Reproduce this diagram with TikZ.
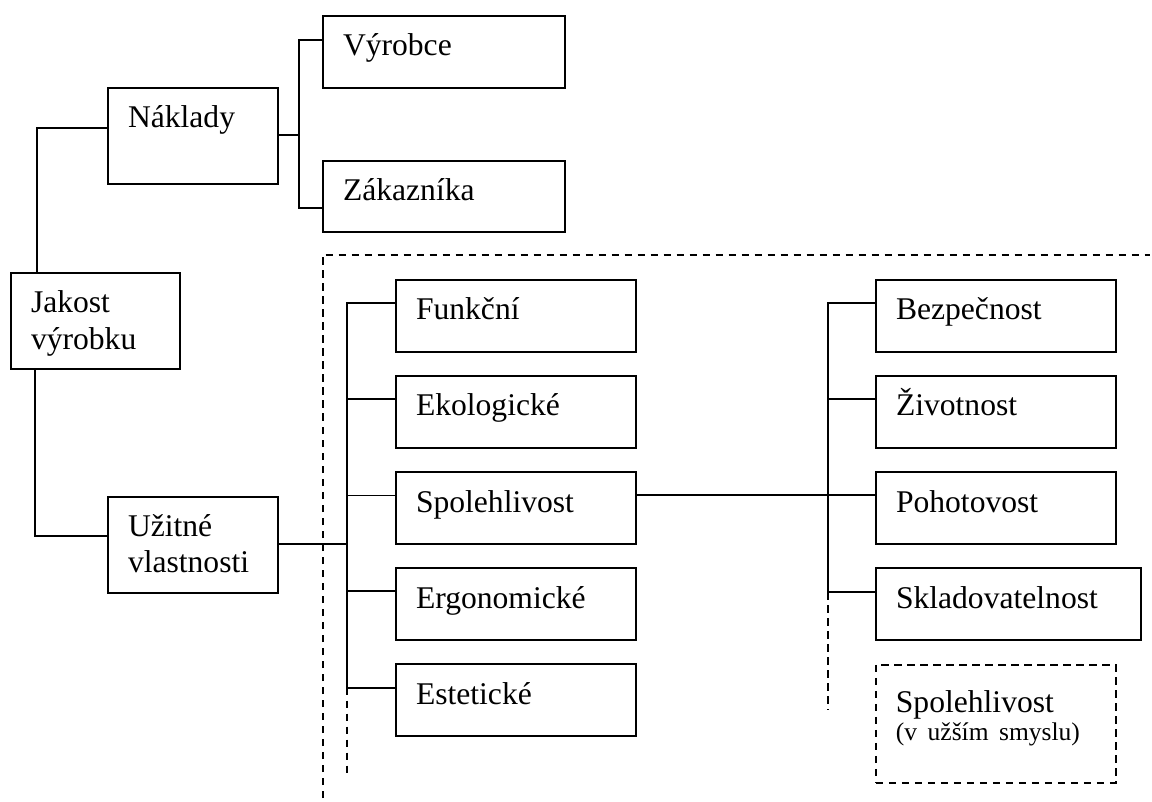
\documentclass[tikz,border=0pt]{standalone}
\usepackage{fontspec}
\setmainfont{Liberation Serif}
\tikzset{
  box/.style={draw, line width=2pt, rectangle, anchor=north west,
    inner xsep=20pt, inner ysep=0pt, text height=40pt, align=left,
    font=\fontsize{31.6}{36.6}\selectfont},
  dbox/.style={box, line width=1.8pt, dash pattern=on 7.5pt off 5.5pt},
  conn/.style={line width=1.9pt},
  dashline/.style={line width=1.8pt, dash pattern=on 7.5pt off 5.5pt},
}
\begin{document}
\begin{tikzpicture}[x=1pt, y=-1pt]
\fill[white] (0,0) rectangle (1152,802);
\useasboundingbox (0,0) rectangle (1152,802);

% dashed frame (drawn first)
\coordinate (d1) at (322.7,798);
\coordinate (d2) at (1150,255);
\draw[dashline] (d1) |- (d2);

% boxes
\node[box, text width=202pt, text depth=32pt] (vyr) at (322,15) {Výrobce};
\node[box, text width=202pt, text depth=31pt] (zak) at (322,160) {Zákazníka};
\node[box, text width=130pt, text depth=56pt] (nak) at (107,87) {Náklady};
\node[box, text width=129pt, text height=39.5pt, text depth=56.5pt] (jak) at (10,272) {Jakost\\výrobku};
\node[box, text width=130pt, text height=39pt, text depth=57pt] (uzi) at (107,496) {Užitné\\vlastnosti};

\node[box, text width=200pt, text depth=32pt] (fun) at (395,279) {Funkční};
\node[box, text width=200pt, text depth=32pt] (eko) at (395,375) {Ekologické};
\node[box, text width=200pt, text depth=32pt] (spo) at (395,471) {Spolehlivost};
\node[box, text width=200pt, text depth=32pt] (erg) at (395,567) {Ergonomické};
\node[box, text width=200pt, text depth=32pt] (est) at (395,663) {Estetické};

\node[box, text width=200pt, text depth=32pt] (bez) at (875,279) {Bezpečnost};
\node[box, text width=200pt, text depth=32pt] (ziv) at (875,375) {Životnost};
\node[box, text width=200pt, text depth=32pt] (poh) at (875,471) {Pohotovost};
\node[box, text width=225pt, text depth=32pt] (skl) at (875,567) {Skladovatelnost};
\node[dbox, text width=200pt, text height=47.7pt, text depth=70.3pt] (spu) at (875,664)
  {Spolehlivost\\[-8.3pt]\mbox{\fontsize{25.5}{28.3}\selectfont (v užším smyslu)}};

% helper coordinates
\coordinate (nb) at (299,135.3);
\coordinate (ub) at (347,543.7);
\coordinate (m1) at (347,687.7);
\coordinate (m2) at (347,777.7);
\coordinate (r1) at (827.7,592);
\coordinate (r2) at (827.7,709.3);

% connectors
\draw[conn] ([xshift=26.7pt]jak.north west) |- ([yshift=-40.7pt]nak.north west);
\draw[conn] ([xshift=25.3pt]jak.south west) |- ([yshift=-39.7pt]uzi.north west);
\draw[conn] ([yshift=-48.3pt]nak.north east) -- (nb);
\draw[conn] ([yshift=-24.7pt]vyr.north west) -| (nb) |- ([yshift=-48.3pt]zak.north west);

\draw[conn] ([yshift=-47.7pt]uzi.north east) -- (ub);
\draw[conn] ([yshift=-24pt]fun.north west) -| (m1) -- ([yshift=-24.7pt]est.north west);
\draw[conn] ([yshift=-24pt]eko.north west) -| (m1);
\draw[conn] ([yshift=-24.5pt]spo.north west) -| (m1);
\draw[conn] ([yshift=-24.3pt]erg.north west) -| (m1);
\draw[dashline] (m1) -- (m2);

\draw[conn] ([yshift=-24.3pt]bez.north west) -| (r1) -- ([yshift=-25pt]skl.north west);
\draw[conn] ([yshift=-24pt]ziv.north west) -| (r1);
\draw[conn] ([yshift=-24.3pt]spo.north east) -- ([yshift=-24.3pt]poh.north west);
\draw[dashline] (r1) -- (r2);
\end{tikzpicture}
\end{document}
